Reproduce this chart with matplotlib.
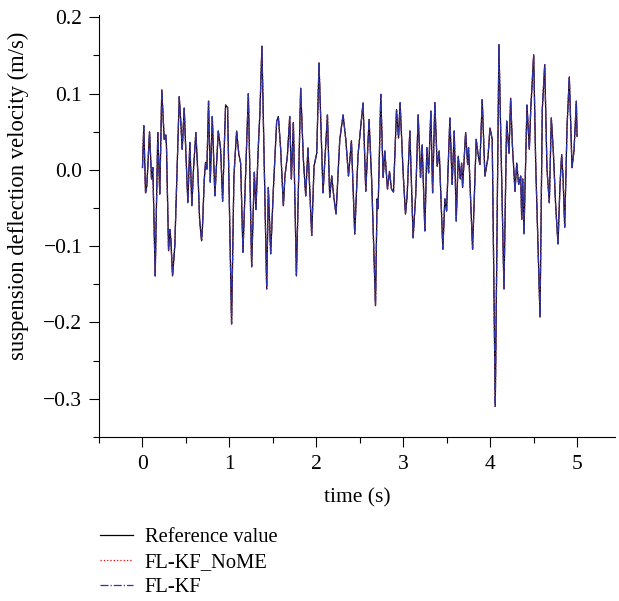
import matplotlib
matplotlib.use("Agg")
from matplotlib import pyplot as plt
from matplotlib.ticker import MultipleLocator

# values (the three estimates overlap the reference almost exactly)
t = [0.000, 0.015, 0.035, 0.050, 0.081, 0.104, 0.119, 0.146, 0.176, 0.199,
     0.222, 0.250, 0.268, 0.276, 0.300, 0.315, 0.326, 0.346, 0.372, 0.423,
     0.441, 0.457, 0.480, 0.499, 0.522, 0.545, 0.568, 0.588, 0.614, 0.642,
     0.657, 0.680, 0.691, 0.711, 0.726, 0.741, 0.760, 0.780, 0.803, 0.833,
     0.872, 0.899, 0.922, 0.956, 0.979, 1.025, 1.052, 1.083, 1.109, 1.129,
     1.156, 1.218, 1.256, 1.287, 1.305, 1.333, 1.351, 1.374, 1.429, 1.448,
     1.475, 1.506, 1.544, 1.563, 1.590, 1.621, 1.639, 1.667, 1.694, 1.713,
     1.736, 1.771, 1.801, 1.820, 1.851, 1.878, 1.904, 1.947, 1.974, 2.005,
     2.031, 2.077, 2.128, 2.154, 2.177, 2.204, 2.227, 2.270, 2.308, 2.339,
     2.370, 2.404, 2.442, 2.480, 2.538, 2.569, 2.607, 2.638, 2.681, 2.699,
     2.711, 2.742, 2.769, 2.788, 2.819, 2.842, 2.865, 2.888, 2.923, 2.946,
     2.964, 2.999, 3.026, 3.045, 3.076, 3.114, 3.145, 3.172, 3.199, 3.218,
     3.249, 3.272, 3.292, 3.318, 3.338, 3.364, 3.391, 3.414, 3.456, 3.479,
     3.499, 3.537, 3.563, 3.587, 3.610, 3.633, 3.656, 3.672, 3.683, 3.718,
     3.741, 3.752, 3.798, 3.840, 3.859, 3.882, 3.909, 3.940, 3.975, 3.998,
     4.024, 4.059, 4.101, 4.159, 4.190, 4.217, 4.236, 4.255, 4.286, 4.306,
     4.328, 4.352, 4.363, 4.375, 4.389, 4.424, 4.451, 4.467, 4.501, 4.524,
     4.574, 4.600, 4.628, 4.654, 4.681, 4.704, 4.728, 4.754, 4.781, 4.804,
     4.823, 4.839, 4.858, 4.885, 4.911, 4.942, 4.965, 4.992, 5.000]

reference = [0.003, 0.058, -0.030, -0.021, 0.050, -0.012, 0.003, -0.139, 0.049, -0.032,
             0.105, 0.040, 0.046, 0.031, -0.106, -0.078, -0.091, -0.139, -0.099, 0.096,
             0.062, 0.027, 0.081, 0.023, -0.043, 0.036, -0.047, 0.003, 0.049, -0.016,
             -0.065, -0.093, -0.073, -0.012, 0.010, 0.001, 0.090, -0.016, 0.070, -0.034,
             0.051, 0.027, -0.041, 0.085, 0.082, -0.202, -0.008, 0.051, 0.020, 0.009,
             -0.108, 0.100, -0.127, -0.003, -0.052, 0.031, 0.075, 0.162, -0.156, -0.023,
             -0.110, -0.025, 0.064, 0.070, 0.027, -0.047, -0.008, 0.018, 0.070, -0.012,
             0.062, -0.139, 0.014, 0.107, 0.014, -0.034, 0.029, -0.086, 0.005, 0.022,
             0.140, -0.030, 0.072, -0.036, -0.008, -0.038, -0.058, 0.040, 0.072, 0.040,
             -0.008, 0.038, -0.084, 0.020, 0.088, -0.028, 0.066, -0.017, -0.178, -0.038,
             -0.051, 0.099, -0.010, 0.025, -0.025, -0.002, -0.025, -0.029, 0.079, 0.042,
             0.088, -0.004, -0.058, -0.034, 0.051, -0.089, -0.030, 0.072, -0.010, 0.033,
             -0.080, 0.029, -0.004, 0.077, -0.030, 0.088, 0.005, 0.025, -0.104, -0.038,
             -0.054, 0.068, -0.019, 0.051, -0.067, 0.018, -0.012, 0.009, -0.023, 0.049,
             0.007, 0.029, -0.104, 0.040, 0.022, 0.007, 0.092, -0.008, 0.016, 0.055,
             0.040, -0.310, 0.164, -0.156, 0.064, 0.022, 0.094, 0.035, -0.028, 0.009,
             -0.019, -0.008, -0.065, -0.012, -0.084, 0.085, 0.027, 0.079, 0.151, 0.009,
             -0.193, 0.079, 0.138, 0.001, -0.043, 0.068, 0.022, -0.047, -0.097, -0.019,
             0.020, -0.010, -0.075, 0.057, 0.122, 0.003, 0.025, 0.090, 0.044]

fl_kf_nome = list(reference)
fl_kf = list(reference)

labels = ['Reference value', 'FL-KF_NoME', 'FL-KF']

plt.rcParams['font.family'] = ['Liberation Serif', 'DejaVu Serif']
plt.rcParams['font.size'] = 15.5

fig = plt.figure(figsize=(6.19, 6.01), dpi=100)
ax = fig.add_axes([0.16, 0.273, 0.834, 0.702])

ax.plot(t, reference, color='black', lw=0.9, label=labels[0])
ax.plot(t, fl_kf_nome, color='red', lw=0.9, ls=':', label=labels[1])
ax.plot(t, fl_kf, color='#2b35a8', lw=0.9, ls='-.', label=labels[2])

ax.set_xlim(-0.5, 5.44)
ax.set_ylim(-0.35, 0.203)
ax.spines['top'].set_visible(False)
ax.spines['right'].set_visible(False)
ax.xaxis.set_major_locator(MultipleLocator(1))
ax.xaxis.set_minor_locator(MultipleLocator(0.5))
ax.yaxis.set_minor_locator(MultipleLocator(0.05))
ax.set_yticks([-0.3, -0.2, -0.1, 0.0, 0.1, 0.2])
ax.yaxis.set_major_formatter(plt.FuncFormatter(lambda v, p: ('%.1f' % v).replace('-', '\u2212')))
ax.tick_params(which='major', direction='out', length=7, width=0.8)
ax.tick_params(which='minor', direction='out', length=4, width=0.8)
ax.tick_params(axis='x', pad=6)
ax.tick_params(axis='y', pad=5)

ax.set_xlabel('time (s)', labelpad=10)
ax.set_ylabel('suspension deflection velocity (m/s)', fontsize=16.3)
ax.yaxis.set_label_coords(-0.135, 0.571)

fig.legend(loc='upper left', bbox_to_anchor=(0.161, 0.122), frameon=False,
           fontsize=14.8, handlelength=1.6, handletextpad=0.6, labelspacing=0.28,
           borderaxespad=0, borderpad=0)

fig.savefig('out.png', dpi=100)
